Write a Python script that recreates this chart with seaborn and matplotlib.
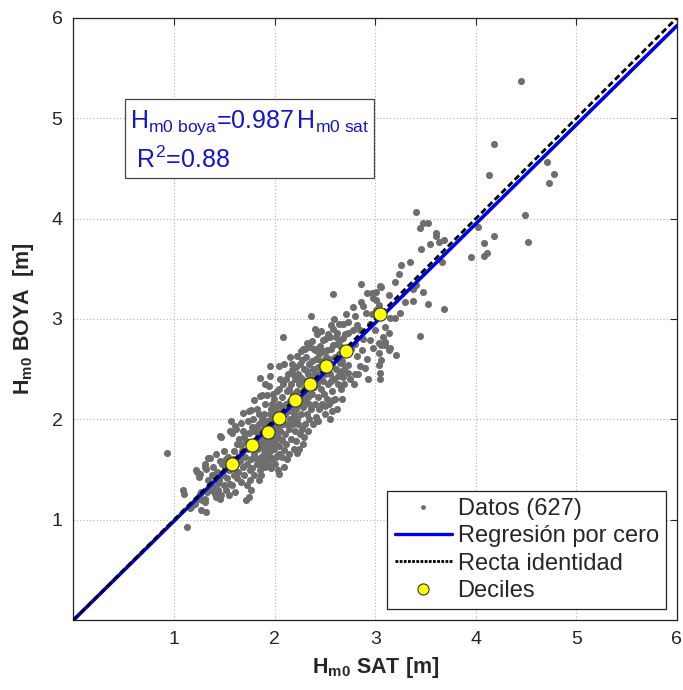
import numpy as np
import seaborn as sns
import matplotlib.pyplot as plt
from matplotlib.lines import Line2D

# datos (Hm0 satelite, Hm0 boya)
datos = [
    # cola inferior
    (0.93, 1.66), (1.09, 1.30), (1.10, 1.26), (1.125, 0.93), (1.23, 1.48), (1.25, 1.43),
    (1.31, 1.55), (1.32, 1.51), (1.34, 1.61), (1.16, 1.12), (1.21, 1.16), (1.27, 1.10),
    (1.32, 1.08), (1.31, 1.18), (1.27, 1.28), (1.31, 1.21), (1.24, 1.21), (1.17, 1.13),
    (1.28, 1.20), (1.26, 1.26), (1.33, 1.28), (1.37, 1.30), (1.41, 1.26), (1.42, 1.23),
    (1.46, 1.21), (1.47, 1.25), (1.44, 1.30), (1.39, 1.33), (1.36, 1.36), (1.34, 1.40),
    (1.56, 1.36), (1.47, 1.82), (1.36, 1.61), (1.39, 1.53), (1.31, 1.53), (1.26, 1.46),
    (1.22, 1.50), (1.46, 1.58), (1.52, 1.60), (1.51, 1.51), (1.40, 1.44), (1.45, 1.40),
    (1.50, 1.35), (1.43, 1.48), (1.49, 1.45), (1.53, 1.42), (1.55, 1.50), (1.48, 1.55),
    (1.38, 1.45), (1.44, 1.37), (1.52, 1.30), (1.55, 1.25), (1.42, 1.65), (1.50, 1.68),
    (1.54, 1.62), (1.46, 1.83), (1.56, 1.88),
    # 1.575 - 1.78
    (1.58, 1.35), (1.60, 1.45), (1.62, 1.55), (1.60, 1.68), (1.63, 1.75), (1.65, 1.63),
    (1.67, 1.38), (1.69, 1.53), (1.67, 1.74), (1.67, 1.96), (1.57, 1.98), (1.72, 1.20),
    (1.75, 1.23), (1.77, 1.30), (1.75, 1.86), (1.75, 2.08), (1.58, 1.86), (1.62, 1.90),
    (1.64, 1.48), (1.66, 1.58), (1.68, 1.68), (1.70, 1.45), (1.71, 1.62), (1.72, 1.78),
    (1.73, 1.55), (1.74, 1.70), (1.76, 1.40), (1.77, 1.60), (1.78, 1.92), (1.59, 1.60),
    (1.61, 1.28), (1.63, 1.42), (1.70, 1.82), (1.73, 1.35), (1.76, 1.50), (1.65, 1.80),
    (1.69, 1.88), (1.60, 1.52), (1.74, 1.98), (1.78, 1.52), (1.61, 1.93), (1.69, 2.06),
    (1.77, 2.09),
    # 1.78 - 1.93
    (1.82, 1.55), (1.85, 1.50), (1.90, 1.53), (1.85, 2.23), (1.92, 2.24), (1.80, 1.65),
    (1.81, 1.75), (1.83, 1.85), (1.84, 1.95), (1.86, 1.62), (1.87, 1.72), (1.88, 1.82),
    (1.89, 2.05), (1.90, 1.68), (1.91, 1.92), (1.79, 2.00), (1.80, 1.45), (1.82, 2.10),
    (1.84, 1.40), (1.86, 1.88), (1.87, 2.00), (1.88, 1.58), (1.89, 1.76), (1.90, 2.15),
    (1.92, 1.62), (1.93, 1.80), (1.83, 1.70), (1.85, 1.78), (1.87, 1.55), (1.91, 1.72),
    (1.80, 1.88), (1.82, 1.60), (1.88, 1.95), (1.92, 1.98), (1.84, 2.05), (1.86, 1.45),
    (1.90, 1.85), (1.81, 1.92), (1.89, 1.65), (1.93, 1.55), (1.80, 2.19), (1.87, 2.24),
    (1.85, 2.41), (1.90, 2.35),
    # 1.93 - 2.04
    (1.94, 2.33), (1.95, 1.68), (2.02, 1.63), (2.04, 1.73), (1.94, 1.75), (1.95, 1.85),
    (1.96, 1.95), (1.96, 2.10), (1.97, 1.60), (1.97, 1.80), (1.98, 1.90), (1.98, 2.02),
    (1.99, 1.70), (1.99, 2.20), (2.00, 1.55), (2.00, 1.85), (2.00, 1.98), (2.01, 2.08),
    (2.01, 1.75), (2.02, 1.92), (2.02, 2.28), (2.03, 1.82), (2.03, 2.00), (2.04, 1.65),
    (2.04, 2.15), (1.94, 1.98), (1.95, 2.05), (1.96, 1.52), (1.97, 2.15), (1.98, 1.72),
    (1.99, 1.95), (2.00, 2.10), (2.01, 1.62), (2.02, 1.85), (2.03, 2.05), (2.04, 1.93),
    (1.95, 1.62), (1.98, 2.25), (2.00, 1.78), (2.03, 1.50), (2.04, 2.30), (1.95, 2.53),
    (2.04, 2.53), (1.95, 2.43),
    # 2.04 - 2.20
    (2.04, 1.46), (2.09, 1.53), (2.09, 1.69), (2.07, 1.79), (2.05, 1.88), (2.06, 2.00),
    (2.06, 2.12), (2.07, 2.22), (2.08, 1.95), (2.08, 2.35), (2.10, 1.85), (2.10, 2.05),
    (2.11, 2.15), (2.11, 1.75), (2.12, 2.28), (2.12, 1.95), (2.13, 2.45), (2.13, 2.08),
    (2.14, 1.65), (2.14, 1.90), (2.15, 2.18), (2.15, 2.00), (2.16, 2.35), (2.16, 1.80),
    (2.17, 2.10), (2.17, 2.55), (2.18, 1.95), (2.18, 2.25), (2.19, 1.70), (2.19, 2.05),
    (2.20, 2.40), (2.20, 1.88), (2.05, 2.40), (2.09, 2.55), (2.12, 1.60), (2.15, 2.62),
    (2.18, 2.45), (2.07, 1.62), (2.14, 2.30), (2.17, 2.00), (2.11, 2.40), (2.08, 2.82),
    (2.17, 2.49),
    # 2.20 - 2.35
    (2.22, 2.63), (2.28, 2.70), (2.27, 2.59), (2.35, 2.72), (2.21, 1.78), (2.21, 2.10),
    (2.22, 2.28), (2.23, 1.95), (2.23, 2.45), (2.24, 2.15), (2.24, 2.35), (2.25, 1.85),
    (2.25, 2.55), (2.26, 2.05), (2.26, 2.22), (2.27, 2.40), (2.28, 1.75), (2.28, 2.12),
    (2.29, 2.30), (2.29, 2.50), (2.30, 1.95), (2.30, 2.18), (2.31, 2.38), (2.31, 2.62),
    (2.32, 2.05), (2.32, 2.25), (2.33, 2.45), (2.33, 1.88), (2.34, 2.15), (2.34, 2.55),
    (2.35, 2.32), (2.22, 2.00), (2.25, 2.42), (2.27, 1.90), (2.30, 2.70), (2.32, 2.48),
    (2.34, 2.00), (2.21, 2.52), (2.26, 2.68), (2.29, 1.82), (2.33, 2.22), (2.24, 1.70),
    (2.22, 1.66), (2.32, 2.76),
    # 2.35 - 2.51
    (2.36, 3.03), (2.40, 2.69), (2.45, 2.73), (2.48, 2.79), (2.36, 2.10), (2.36, 2.40),
    (2.37, 2.25), (2.37, 2.58), (2.38, 1.95), (2.38, 2.50), (2.39, 2.32), (2.39, 2.70),
    (2.40, 2.15), (2.40, 2.45), (2.41, 2.60), (2.41, 2.02), (2.42, 2.35), (2.42, 2.85),
    (2.43, 2.22), (2.43, 2.52), (2.44, 2.65), (2.44, 2.10), (2.45, 2.40), (2.46, 2.30),
    (2.46, 2.58), (2.47, 2.48), (2.47, 2.15), (2.48, 2.68), (2.48, 2.38), (2.49, 2.55),
    (2.49, 2.25), (2.50, 2.45), (2.50, 2.80), (2.51, 2.62), (2.37, 2.78), (2.40, 2.90),
    (2.43, 1.98), (2.46, 2.88), (2.38, 2.38), (2.44, 2.45), (2.50, 2.05), (2.42, 2.70),
    (2.50, 2.13), (2.42, 1.99),
    # 2.51 - 2.71
    (2.58, 3.25), (2.56, 2.94), (2.55, 2.82), (2.62, 2.86), (2.65, 2.79), (2.58, 2.74),
    (2.52, 2.69), (2.68, 2.81), (2.65, 2.56), (2.52, 2.20), (2.52, 2.50), (2.53, 2.35),
    (2.54, 2.60), (2.54, 2.15), (2.55, 2.45), (2.56, 2.70), (2.57, 2.28), (2.57, 2.55),
    (2.58, 2.90), (2.59, 2.40), (2.60, 2.62), (2.60, 2.20), (2.61, 2.50), (2.62, 2.75),
    (2.63, 2.35), (2.64, 2.65), (2.64, 2.95), (2.65, 2.45), (2.66, 2.30), (2.66, 2.72),
    (2.67, 2.58), (2.68, 2.95), (2.68, 2.42), (2.69, 2.68), (2.70, 2.52), (2.70, 2.85),
    (2.71, 3.05), (2.53, 2.85), (2.59, 3.00), (2.62, 2.10), (2.67, 2.20), (2.56, 2.38),
    (2.61, 2.82), (2.69, 2.35), (2.58, 2.19), (2.57, 2.08), (2.55, 2.00), (2.63, 2.43),
    (2.67, 2.48),
    # 2.71 - 3.05
    (2.86, 3.35), (2.92, 3.26), (2.97, 3.26), (3.01, 3.27), (3.05, 3.33), (2.98, 3.21),
    (2.86, 3.17), (2.88, 3.13), (2.78, 3.12), (2.91, 3.06), (2.80, 3.03), (3.01, 3.19),
    (3.04, 3.14), (3.01, 3.09), (2.73, 2.97), (2.82, 2.94), (2.85, 2.89), (2.78, 2.89),
    (2.73, 2.86), (3.00, 2.89), (2.95, 2.79), (3.04, 2.76), (2.98, 2.71), (3.04, 2.66),
    (3.04, 2.54), (2.87, 2.69), (2.82, 2.63), (2.85, 2.53), (2.90, 2.51), (2.73, 2.54),
    (2.75, 2.40), (2.80, 2.75), (2.83, 2.45), (2.88, 2.80), (2.92, 2.60), (2.95, 2.95),
    (2.76, 2.70), (2.93, 2.40), (2.97, 3.05), (2.79, 2.35), (2.73, 2.46), (2.80, 2.45),
    (3.05, 2.46), (3.05, 2.40),
    # cola superior
    (3.06, 3.02), (3.08, 2.82), (3.10, 2.92), (3.14, 2.86), (3.10, 2.74), (3.14, 2.69),
    (3.21, 2.64), (3.06, 2.59), (3.14, 3.24), (3.15, 3.01), (3.20, 3.01), (3.25, 3.06),
    (3.30, 3.17), (3.35, 3.57), (3.26, 3.54), (3.24, 3.45), (3.20, 3.37), (3.38, 3.30),
    (3.41, 3.34), (3.48, 3.27), (3.38, 3.18), (3.53, 3.15), (3.68, 3.10), (3.06, 3.32),
    (3.45, 2.83), (3.10, 2.77), (3.15, 2.71), (3.06, 2.74), (3.66, 3.57), (3.41, 4.07),
    (3.48, 3.96), (3.53, 3.96), (3.45, 3.91), (3.60, 3.86), (3.60, 3.83), (3.68, 3.79),
    (3.63, 3.77), (3.55, 3.75), (3.46, 3.70), (3.95, 3.62), (4.02, 3.92), (4.08, 3.63),
    (4.11, 3.66), (4.08, 3.76), (4.18, 3.83), (4.515, 3.77), (4.485, 4.04), (4.13, 4.43),
    (4.18, 4.74), (4.455, 5.37), (4.71, 4.56), (4.78, 4.44), (4.73, 4.36),
]
sat_x = [p[0] for p in datos]
boya_y = [p[1] for p in datos]

deciles_sat = [1.575, 1.78, 1.93, 2.04, 2.20, 2.35, 2.51, 2.71, 3.05]
deciles_boya = [1.555, 1.74, 1.87, 2.01, 2.19, 2.35, 2.53, 2.68, 3.05]

pendiente = 0.987
r2 = 0.88
n_datos = 627
rango = [0, 6]
ticks = [1, 2, 3, 4, 5, 6]

sns.set_style('white')
plt.rcParams['font.family'] = ['Liberation Sans', 'DejaVu Sans']
plt.rcParams['mathtext.fontset'] = 'custom'
plt.rcParams['mathtext.rm'] = 'Liberation Sans'
plt.rcParams['mathtext.it'] = 'Liberation Sans'
plt.rcParams['mathtext.bf'] = 'Liberation Sans:bold'

fig = plt.figure(figsize=(6.83, 6.90), dpi=100)
ax = fig.add_axes([0.1076, 0.1014, 0.8834, 0.8726])

sns.scatterplot(x=sat_x, y=boya_y, ax=ax, color='#6e6e6e', s=26,
                linewidth=0, zorder=2)
sns.lineplot(x=rango, y=[pendiente * v for v in rango], ax=ax,
             color='#0000e6', linewidth=2.6, zorder=3)
sns.lineplot(x=rango, y=rango, ax=ax, color='black', linewidth=2.0,
             linestyle=(0, (2.2, 1.2)), zorder=4)
sns.scatterplot(x=deciles_sat, y=deciles_boya, ax=ax, color='#ffff00',
                s=90, edgecolor='#333333', linewidth=0.8, zorder=5)

ax.set_xlim(rango)
ax.set_ylim(rango)
ax.set_xticks(ticks)
ax.set_yticks(ticks)
ax.tick_params(labelsize=14, direction='in', top=True, right=True,
               length=5, width=0.8, pad=8)
ax.grid(True, linestyle=(0, (1, 2)), color='#b0b0b0', linewidth=0.8)
for s in ax.spines.values():
    s.set_color('#222222')
    s.set_linewidth(0.9)

ax.set_xlabel(r'H$_{\mathbf{m0}}$ SAT [m]', fontsize=15.5, fontweight='bold',
              labelpad=5)
ax.set_ylabel(r'H$_{\mathbf{m0}}$ BOYA  [m]', fontsize=15.5, fontweight='bold',
              labelpad=11)

texto = ('H$_{m0\\ boya}$=%.3f$\\,$H$_{m0\\ sat}$' % pendiente + '\n'
         + ' R$^{2}$=%.2f' % r2)
ax.text(0.56, 5.1, texto, fontsize=18, color='#1414c8', va='top', ha='left',
        linespacing=1.45,
        bbox=dict(boxstyle='square,pad=0.2', facecolor='white',
                  edgecolor='#444444', linewidth=0.9))

handles = [
    Line2D([], [], linestyle='none', marker='o', markersize=3.5,
           color='#6e6e6e', markeredgewidth=0),
    Line2D([], [], color='#0000e6', linewidth=2.4),
    Line2D([], [], color='black', linewidth=2.0, linestyle=(0, (1.0, 0.5))),
    Line2D([], [], linestyle='none', marker='o', markersize=8,
           markerfacecolor='#ffff00', markeredgecolor='#333333',
           markeredgewidth=0.8),
]
labels = ['Datos (%d)' % n_datos, 'Regresión por cero', 'Recta identidad',
          'Deciles']
leg = ax.legend(handles, labels, loc='lower right', fontsize=17,
                fancybox=False, framealpha=1, edgecolor='#222222',
                handlelength=2.4, handletextpad=0.25, labelspacing=0.22,
                borderpad=0.32, borderaxespad=0.45)
leg.get_frame().set_linewidth(0.9)
leg.set_zorder(10)

fig.savefig('out.png', dpi=100)
